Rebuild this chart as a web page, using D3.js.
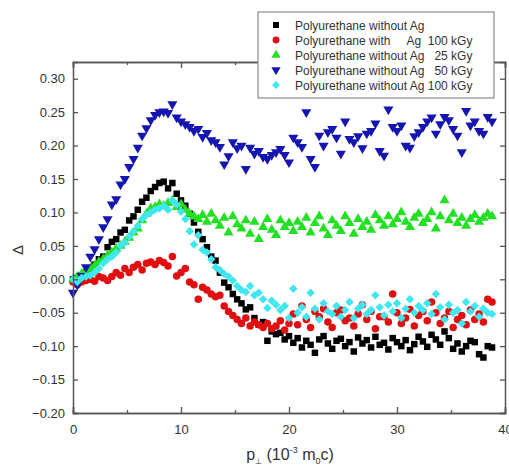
<!DOCTYPE html>
<html><head><meta charset="utf-8">
<script src="https://cdn.jsdelivr.net/npm/d3@7"></script>
<style>
body{margin:0;background:#fff;}
svg text{font-family:"Liberation Sans",Arial,sans-serif;}
</style></head>
<body><svg id="c" width="509" height="468"></svg>
<script>
// ---- data ----
const pValues = [0,0.4,0.8,1.2,1.6,2.0,2.4,2.8,3.2,3.6,4.0,4.4,4.8,5.2,5.6,6.0,6.4,6.8,7.2,7.6,8.0,8.4,8.8,9.2,9.6,10.0,10.4,10.8,11.2,11.6,12.0,12.4,12.8,13.2,13.6,14.0,14.4,14.8,15.2,15.6,16.0,16.4,16.8,17.2,17.6,18.0,18.4,18.8,19.2,19.6,20.0,20.4,20.8,21.2,21.6,22.0,22.4,22.8,23.2,23.6,24.0,24.4,24.8,25.2,25.6,26.0,26.4,26.8,27.2,27.6,28.0,28.4,28.8,29.2,29.6,30.0,30.4,30.8,31.2,31.6,32.0,32.4,32.8,33.2,33.6,34.0,34.4,34.8,35.2,35.6,36.0,36.4,36.8,37.2,37.6,38.0,38.4,38.8];

const noAg = [0.000,0.002,0.006,0.010,0.015,0.022,0.030,0.034,0.048,0.056,0.060,0.070,0.074,0.088,0.094,0.104,0.116,0.122,0.132,0.138,0.144,0.146,0.136,0.144,0.128,0.118,0.110,0.098,0.085,0.071,0.060,0.048,0.034,0.028,0.010,-0.005,-0.012,-0.022,-0.030,-0.036,-0.045,-0.042,-0.058,-0.068,-0.064,-0.092,-0.078,-0.082,-0.080,-0.090,-0.085,-0.095,-0.088,-0.102,-0.092,-0.098,-0.110,-0.090,-0.085,-0.096,-0.104,-0.092,-0.089,-0.100,-0.094,-0.108,-0.087,-0.096,-0.091,-0.102,-0.086,-0.098,-0.095,-0.105,-0.088,-0.094,-0.100,-0.091,-0.106,-0.097,-0.086,-0.093,-0.101,-0.083,-0.090,-0.098,-0.078,-0.088,-0.104,-0.096,-0.108,-0.100,-0.092,-0.094,-0.112,-0.117,-0.100,-0.102];

const withAg100 = [-0.004,-0.008,-0.004,-0.002,0.000,-0.003,0.004,0.002,-0.002,0.004,0.010,0.006,0.016,0.010,0.018,0.022,0.014,0.024,0.026,0.022,0.028,0.025,0.020,0.034,0.005,0.010,0.016,-0.004,-0.008,-0.030,-0.012,-0.016,-0.022,-0.026,-0.024,-0.040,-0.048,-0.054,-0.060,-0.066,-0.058,-0.070,-0.064,-0.068,-0.072,-0.066,-0.074,-0.070,-0.062,-0.076,-0.066,-0.052,-0.068,-0.040,-0.060,-0.072,-0.048,-0.056,-0.044,-0.064,-0.072,-0.050,-0.046,-0.062,-0.058,-0.070,-0.052,-0.038,-0.060,-0.048,-0.074,-0.056,-0.056,-0.064,-0.022,-0.050,-0.066,-0.058,-0.045,-0.070,-0.054,-0.048,-0.062,-0.034,-0.050,-0.066,-0.058,-0.048,-0.072,-0.060,-0.054,-0.068,-0.046,-0.060,-0.052,-0.064,-0.030,-0.034];

const noAg25 = [0.000,0.004,0.008,0.012,0.016,0.020,0.026,0.030,0.036,0.040,0.046,0.050,0.056,0.062,0.070,0.076,0.088,0.098,0.106,0.108,0.112,0.110,0.114,0.118,0.108,0.112,0.104,0.098,0.094,0.090,0.096,0.086,0.098,0.088,0.080,0.092,0.070,0.094,0.082,0.076,0.088,0.068,0.086,0.060,0.078,0.090,0.074,0.066,0.088,0.078,0.084,0.072,0.086,0.078,0.092,0.070,0.084,0.094,0.076,0.066,0.088,0.080,0.072,0.094,0.084,0.068,0.090,0.078,0.086,0.074,0.096,0.088,0.080,0.094,0.082,0.090,0.100,0.086,0.078,0.092,0.098,0.084,0.090,0.100,0.076,0.094,0.118,0.088,0.098,0.084,0.092,0.080,0.090,0.096,0.086,0.092,0.098,0.094];

const noAg50 = [-0.020,-0.008,0.005,0.018,0.034,0.045,0.060,0.078,0.090,0.112,0.120,0.142,0.150,0.168,0.180,0.197,0.215,0.226,0.238,0.246,0.250,0.251,0.249,0.262,0.242,0.236,0.232,0.228,0.222,0.225,0.213,0.219,0.208,0.205,0.198,0.172,0.184,0.205,0.196,0.200,0.165,0.197,0.188,0.192,0.183,0.180,0.186,0.190,0.195,0.186,0.175,0.212,0.205,0.198,0.250,0.180,0.168,0.215,0.200,0.220,0.225,0.212,0.188,0.236,0.210,0.205,0.214,0.196,0.218,0.222,0.233,0.192,0.185,0.254,0.228,0.222,0.230,0.200,0.197,0.214,0.220,0.228,0.236,0.242,0.218,0.232,0.243,0.238,0.225,0.215,0.190,0.252,0.230,0.236,0.222,0.218,0.243,0.236];

const noAg100 = [0.000,-0.004,0.002,0.004,0.006,0.010,0.016,0.024,0.030,0.034,0.040,0.050,0.055,0.064,0.072,0.080,0.090,0.096,0.100,0.104,0.106,0.110,0.104,0.118,0.112,0.101,0.090,0.072,0.052,0.066,0.044,0.040,0.030,0.018,0.014,0.008,0.004,-0.002,-0.010,-0.016,-0.019,-0.010,-0.024,-0.020,-0.030,-0.043,-0.032,-0.038,-0.046,-0.040,-0.058,-0.014,-0.050,-0.042,-0.056,-0.020,-0.044,-0.060,-0.036,-0.048,-0.052,-0.040,-0.056,-0.046,-0.034,-0.058,-0.044,-0.038,-0.052,-0.046,-0.024,-0.042,-0.054,-0.038,-0.048,-0.036,-0.058,-0.044,-0.030,-0.050,-0.040,-0.046,-0.036,-0.052,-0.022,-0.042,-0.060,-0.038,-0.050,-0.046,-0.066,-0.034,-0.048,-0.040,-0.056,-0.044,-0.050,-0.052];

const seriesNames = ["Polyurethane without Ag","Polyurethane with     Ag  100 kGy","Polyurethane without Ag   25 kGy","Polyurethane without Ag   50 kGy","Polyurethane without Ag 100 kGy"];
const xTicks = [0,10,20,30,40];
const yTicks = [-0.20,-0.15,-0.10,-0.05,0.00,0.05,0.10,0.15,0.20,0.25,0.30];

// ---- drawing ----
const svg = d3.select("#c");
const L=73,R=505,T=62,B=413;
const x = d3.scaleLinear().domain([0,40]).range([L,R]);
const y = d3.scaleLinear().domain([-0.2,0.325]).range([B,T]);
const axisColor="#555", textColor="#333";

const series = [
  {vals:noAg, color:"#000000", sym:d3.symbolSquare, size:42, rot:0},
  {vals:withAg100, color:"#e01010", sym:d3.symbolCircle, size:44, rot:0},
  {vals:noAg25, color:"#22e022", sym:d3.symbolTriangle, size:44, rot:0},
  {vals:noAg50, color:"#1515b0", sym:d3.symbolTriangle, size:44, rot:180},
  {vals:noAg100, color:"#40e6f0", sym:d3.symbolSquare, size:36, rot:45}
];

// points
series.forEach(s=>{
  const path = d3.symbol().type(s.sym).size(s.size)();
  svg.append("g").selectAll("path").data(s.vals).join("path")
    .attr("d",path)
    .attr("transform",(d,i)=>`translate(${x(pValues[i])},${y(d)}) rotate(${s.rot})`)
    .attr("fill",s.color);
});

// axes (inward ticks)
const fmt = d3.format(".2f");
const gB = svg.append("g").attr("transform",`translate(0,${B})`)
  .call(d3.axisBottom(x).tickValues(xTicks).tickSize(-6).tickPadding(12).tickFormat(d3.format("d")));
const gBm = svg.append("g").attr("transform",`translate(0,${B})`)
  .call(d3.axisBottom(x).tickValues([5,15,25,35]).tickSize(-3).tickFormat(""));
const gT = svg.append("g").attr("transform",`translate(0,${T})`)
  .call(d3.axisTop(x).tickValues(xTicks).tickSize(-6).tickFormat(""));
const gTm = svg.append("g").attr("transform",`translate(0,${T})`)
  .call(d3.axisTop(x).tickValues([5,15,25,35]).tickSize(-3).tickFormat(""));
const gL = svg.append("g").attr("transform",`translate(${L},0)`)
  .call(d3.axisLeft(y).tickValues(yTicks).tickSize(-5).tickPadding(8).tickFormat(fmt));
const gR = svg.append("g").attr("transform",`translate(${R},0)`)
  .call(d3.axisRight(y).tickValues(yTicks).tickSize(-5).tickFormat(""));
[gB,gBm,gT,gTm,gL,gR].forEach(g=>{
  g.selectAll("path.domain").attr("stroke",axisColor).attr("stroke-width",1.5);
  g.selectAll(".tick line").attr("stroke",axisColor).attr("stroke-width",1.3);
  g.selectAll("text").attr("fill",textColor).style("font-size","13px")
   .style("font-family","'Liberation Sans',Arial,sans-serif");
});

// legend
const lg = svg.append("g");
lg.append("rect").attr("x",258).attr("y",12).attr("width",236).attr("height",86)
  .attr("fill","#fff").attr("stroke","#8a8a8a").attr("stroke-width",1.2);
seriesNames.forEach((name,i)=>{
  const s = series[i];
  const yy = 25 + i*15;
  lg.append("path").attr("d",d3.symbol().type(s.sym).size(s.size*0.85)())
    .attr("transform",`translate(276,${yy}) rotate(${s.rot})`).attr("fill",s.color);
  lg.append("text").attr("x",295).attr("y",yy+4.5).attr("fill","#333")
    .style("font-size","12px").style("white-space","pre").attr("xml:space","preserve").text(name);
});

// axis titles
svg.append("text").attr("transform","translate(23,250) rotate(-90)")
  .attr("text-anchor","middle").attr("fill",textColor).style("font-size","15px").text("Δ");
const xt = svg.append("text").attr("x",290).attr("y",460).attr("text-anchor","middle")
  .attr("fill",textColor).style("font-size","16px");
xt.append("tspan").text("p");
xt.append("tspan").attr("dy",4).style("font-size","8px").text("⊥");
xt.append("tspan").attr("dy",-4).text(" (10");
xt.append("tspan").attr("dy",-7).style("font-size","9px").text("-3");
xt.append("tspan").attr("dy",7).text(" m");
xt.append("tspan").attr("dy",4).style("font-size","9px").text("0");
xt.append("tspan").attr("dy",-4).text("c)");
</script></body></html>
